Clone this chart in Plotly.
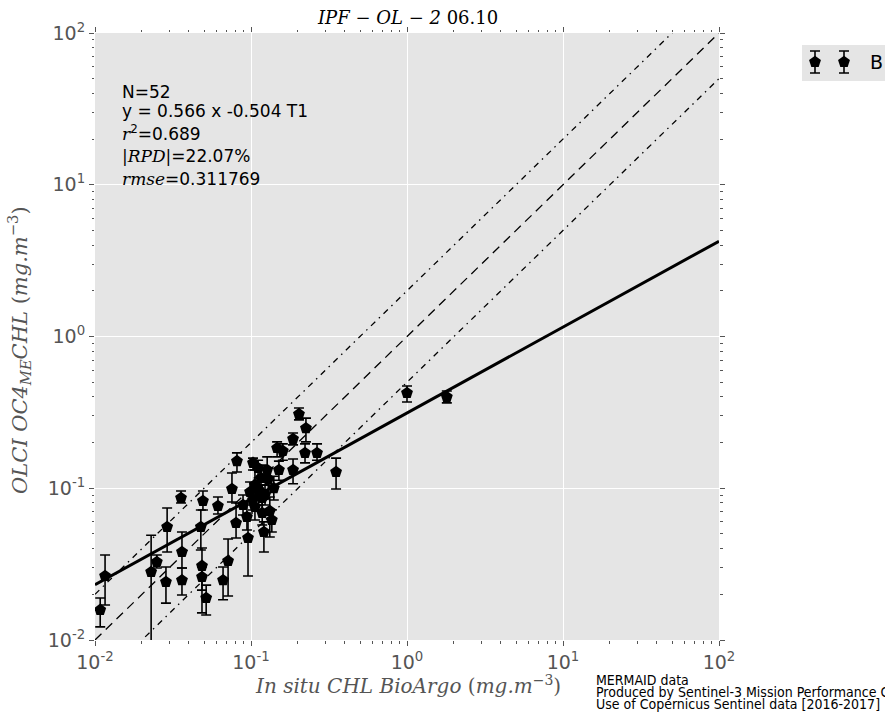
import plotly.graph_objects as go

# In situ (BioArgo) chlorophyll vs OLCI OC4ME chlorophyll, mg.m-3
insitu = [0.0108, 0.0116, 0.0229, 0.0249, 0.0290, 0.0285, 0.0356, 0.0361, 0.0361, 0.0477,
          0.0492, 0.0485, 0.0485, 0.0516, 0.0614, 0.0662, 0.0713, 0.0755, 0.0813, 0.0802,
          0.0957, 0.103, 0.111, 0.127, 0.106, 0.112, 0.129, 0.140, 0.103, 0.118,
          0.106, 0.118, 0.132, 0.121, 0.151, 0.186, 0.147, 0.160, 0.186, 0.203,
          0.225, 0.222, 0.265, 0.351, 1.00, 1.80, 0.0942, 0.116, 0.0986, 0.0889,
          0.123, 0.136]
olci = [0.0158, 0.0264, 0.0281, 0.0327, 0.0556, 0.0241, 0.0863, 0.0380, 0.0248, 0.0556,
        0.0824, 0.0308, 0.0260, 0.0189, 0.0764, 0.0248, 0.0332, 0.0989, 0.151, 0.0590,
        0.0470, 0.147, 0.136, 0.132, 0.105, 0.0973, 0.115, 0.100, 0.0837, 0.0863,
        0.0752, 0.0687, 0.0708, 0.0515, 0.132, 0.132, 0.184, 0.176, 0.211, 0.308,
        0.249, 0.171, 0.171, 0.128, 0.424, 0.399, 0.0647, 0.117, 0.0945, 0.0776,
        0.0902, 0.0618]
olci_low = [0.0122, 0.0170, 0.0040, 0.0298, 0.0380, 0.0175, 0.0800, 0.0298, 0.0198, 0.0392,
            0.0719, 0.0151, 0.0213, 0.0146, 0.0676, 0.0184, 0.0195, 0.0811, 0.128, 0.0470,
            0.0264, 0.132, 0.113, 0.105, 0.0837, 0.0776, 0.0945, 0.0837, 0.0719, 0.0697,
            0.0618, 0.0573, 0.0477, 0.0380, 0.113, 0.107, 0.161, 0.153, 0.193, 0.282,
            0.202, 0.147, 0.153, 0.0989, 0.370, 0.365, 0.0531, 0.0973, 0.0811, 0.0667,
            0.0776, 0.0515]
olci_high = [0.0189, 0.0363, 0.0490, 0.0363, 0.0741, 0.0303, 0.0959, 0.0515, 0.0298, 0.0719,
             0.0959, 0.0404, 0.0303, 0.0230, 0.0875, 0.0303, 0.0463, 0.126, 0.171, 0.0800,
             0.0687, 0.158, 0.153, 0.161, 0.132, 0.117, 0.136, 0.120, 0.0973, 0.105,
             0.0902, 0.0837, 0.0875, 0.0600, 0.151, 0.156, 0.202, 0.196, 0.231, 0.338,
             0.290, 0.196, 0.196, 0.158, 0.472, 0.437, 0.0776, 0.142, 0.110, 0.0902,
             0.105, 0.0720]

# Type-II regression in log10 space
slope = 0.566
intercept = -0.504
axis_min, axis_max = 0.01, 100.0
decades = [0.01, 0.1, 1, 10, 100]
decade_labels = ["10<sup>-2</sup>", "10<sup>-1</sup>", "10<sup>0</sup>", "10<sup>1</sup>", "10<sup>2</sup>"]
minor_vals = [k * d for d in decades[:-1] for k in range(2, 10)]

SERIF_I = "<span style=\"font-family:'DejaVu Serif';font-style:italic\">{}</span>"
stats_lines = [
    "N=52",
    "y = 0.566 x -0.504 T1",
    SERIF_I.format("r") + "<sup>2</sup>=0.689",
    SERIF_I.format("|RPD|") + "=22.07%",
    SERIF_I.format("rmse") + "=0.311769",
]
credit_lines = [
    "MERMAID data",
    "Produced by Sentinel-3 Mission Performance Centre",
    "Use of Copernicus Sentinel data [2016-2017]",
]

GREY = "#555555"
BG = "#E5E5E5"

# plot-area geometry (pixels)
W, H = 885, 713
ML, MT, MB = 95, 33, 73
PW = W - ML            # plotting width with r margin 0
PH = H - MT - MB       # 607
AX_R = 719             # right edge of the main axes


def px(x):
    return (x - ML) / PW


def py(y):
    return (H - MB - y) / PH


fig = go.Figure()

xl = [axis_min, axis_max]
fig.add_trace(go.Scatter(x=xl, y=[2 * v for v in xl], mode="lines",
                         line=dict(color="black", width=1.3, dash="6px,5px,1.5px,5px"),
                         showlegend=False, hoverinfo="skip"))
fig.add_trace(go.Scatter(x=xl, y=[0.5 * v for v in xl], mode="lines",
                         line=dict(color="black", width=1.3, dash="6px,5px,1.5px,5px"),
                         showlegend=False, hoverinfo="skip"))
fig.add_trace(go.Scatter(x=xl, y=xl, mode="lines",
                         line=dict(color="black", width=1.3, dash="9px,6px"),
                         showlegend=False, hoverinfo="skip"))
fig.add_trace(go.Scatter(x=xl, y=[10 ** intercept * v ** slope for v in xl], mode="lines",
                         line=dict(color="black", width=3),
                         showlegend=False, hoverinfo="skip"))

fig.add_trace(go.Scatter(
    x=insitu, y=olci, mode="markers",
    marker=dict(symbol="pentagon", size=12.5, color="black"),
    error_y=dict(type="data", symmetric=False,
                 array=[h - v for h, v in zip(olci_high, olci)],
                 arrayminus=[v - l for v, l in zip(olci, olci_low)],
                 color="black", thickness=1.6, width=5),
    showlegend=False,
))

# legend swatch (two markers with error bars) in a small inset
fig.add_trace(go.Scatter(
    x=[13, 42], y=[19, 19], mode="markers", xaxis="x2", yaxis="y2",
    marker=dict(symbol="pentagon", size=12.5, color="black"),
    error_y=dict(type="constant", value=11, color="black", thickness=1.6, width=5),
    showlegend=False, hoverinfo="skip",
))

axis_common = dict(
    type="log", range=[-2, 2], automargin=False,
    tickmode="array", tickvals=decades, ticktext=decade_labels,
    ticks="outside", ticklen=5, tickwidth=1, tickcolor=GREY,
    minor=dict(tickvals=minor_vals, ticks="outside", ticklen=2.5, tickwidth=1,
               tickcolor=GREY, showgrid=False),
    showgrid=True, gridcolor="white", gridwidth=1,
    zeroline=False, showline=False, mirror="ticks",
    tickfont=dict(family="DejaVu Sans", size=19, color=GREY),
)
inset_common = dict(visible=False, fixedrange=True, automargin=False)

fig.update_layout(
    width=W, height=H, autosize=False,
    margin=dict(l=ML, r=0, t=MT, b=MB, pad=0, autoexpand=False),
    paper_bgcolor="white", plot_bgcolor=BG,
    xaxis=dict(domain=[0, (AX_R - ML) / PW], anchor="y", **axis_common),
    yaxis=dict(domain=[0, 1], anchor="x", **axis_common),
    xaxis2=dict(domain=[px(802), 1], range=[0, 83], anchor="y2", **inset_common),
    yaxis2=dict(domain=[py(81), py(45)], range=[0, 36], anchor="x2", **inset_common),
    showlegend=False,
)

ann = []
ann.append(dict(text="<i>IPF − OL − 2</i> 06.10", x=px(407), y=py(18), xref="paper", yref="paper",
                xanchor="center", yanchor="middle", showarrow=False,
                font=dict(family="DejaVu Serif", size=18, color="black")))
ann.append(dict(text="<i>In situ CHL BioArgo</i> (<i>mg.m</i><sup>−3</sup>)",
                x=px(408), y=py(685), xref="paper", yref="paper",
                xanchor="center", yanchor="middle", showarrow=False,
                font=dict(family="DejaVu Serif", size=20, color=GREY)))
ann.append(dict(text="<i>OLCI OC4</i><sub><i>ME</i></sub><i>CHL</i> (<i>mg.m</i><sup>−3</sup>)",
                x=px(19), y=py(350), xref="paper", yref="paper", textangle=-90,
                xanchor="center", yanchor="middle", showarrow=False,
                font=dict(family="DejaVu Serif", size=21, color=GREY)))
for line, ypix in zip(stats_lines, [92, 111, 133, 156, 179]):
    ann.append(dict(text=line, x=px(120), y=py(ypix), xref="paper", yref="paper",
                    xanchor="left", yanchor="middle", showarrow=False,
                    font=dict(family="DejaVu Sans", size=17, color="black")))
for line, ypix in zip(credit_lines, [680, 692, 704]):
    ann.append(dict(text=line, x=px(594), y=py(ypix), xref="paper", yref="paper",
                    xanchor="left", yanchor="middle", showarrow=False,
                    font=dict(family="DejaVu Sans Condensed, DejaVu Sans", size=14, color="black")))
ann.append(dict(text="B", x=66, y=19, xref="x2", yref="y2", xanchor="left", yanchor="middle",
                showarrow=False, font=dict(family="DejaVu Sans", size=19, color="black")))
fig.update_layout(annotations=ann)

# keep the page free of margins and scrollbars so the figure keeps its full width
page_fix = (
    "document.documentElement.style.margin='0';"
    "document.documentElement.style.overflow='hidden';"
    "document.body.style.margin='0';"
    "document.body.style.overflow='hidden';"
    "Plotly.relayout('{plot_id}', {width: %d, height: %d});" % (W, H)
)
fig.write_html("out.html", config={"responsive": False}, post_script=page_fix)
